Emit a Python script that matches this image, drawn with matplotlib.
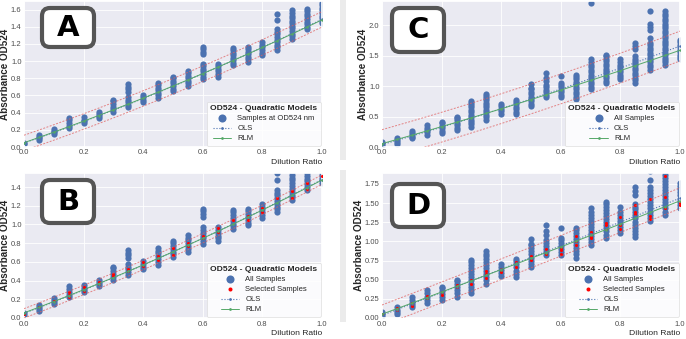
import matplotlib
matplotlib.use('Agg')
import matplotlib.pyplot as plt
from matplotlib.patches import FancyBboxPatch, Rectangle
import numpy as np
import seaborn as sns

sns.set_theme(style='darkgrid')
plt.rcParams['font.family'] = ['Liberation Sans', 'DejaVu Sans']

DILUTION = [0.0, 0.05, 0.10, 0.15, 0.20, 0.25, 0.30, 0.35, 0.40, 0.45, 0.50,
            0.55, 0.60, 0.65, 0.70, 0.75, 0.80, 0.85, 0.90, 0.95, 1.0]

# absorbance readings per dilution step, panels A/B
samples_ab = [
    [0.03, 0.05],
    [0.08, 0.10, 0.12, 0.14],
    [0.15, 0.17, 0.19, 0.21],
    [0.22, 0.25, 0.28, 0.31, 0.34],
    [0.28, 0.30, 0.32, 0.35],
    [0.34, 0.36, 0.38, 0.41],
    [0.41, 0.44, 0.47, 0.50, 0.53, 0.55],
    [0.46, 0.49, 0.52, 0.55, 0.58, 0.64, 0.67, 0.70, 0.73],
    [0.52, 0.55, 0.58, 0.61],
    [0.57, 0.60, 0.63, 0.66, 0.69, 0.72, 0.75],
    [0.65, 0.68, 0.71, 0.74, 0.77, 0.80, 0.82],
    [0.71, 0.74, 0.77, 0.80, 0.83, 0.86, 0.89],
    [0.79, 0.82, 0.85, 0.88, 0.91, 0.94, 0.97, 1.08, 1.11, 1.14, 1.17],
    [0.82, 0.85, 0.88, 0.91, 0.94, 0.97],
    [0.95, 0.98, 1.01, 1.04, 1.07, 1.10, 1.13, 1.15],
    [0.99, 1.02, 1.05, 1.08, 1.11, 1.14, 1.17],
    [1.07, 1.10, 1.13, 1.16, 1.19, 1.22],
    [1.13, 1.16, 1.19, 1.22, 1.25, 1.28, 1.31, 1.34, 1.37, 1.48, 1.55],
    [1.26, 1.29, 1.32, 1.35, 1.38, 1.41, 1.44, 1.47, 1.50, 1.53, 1.56, 1.59],
    [1.37, 1.40, 1.43, 1.46, 1.49, 1.52, 1.55, 1.58, 1.61],
    [1.44, 1.47, 1.50, 1.53, 1.56, 1.59, 1.62, 1.65, 1.68],
]

# absorbance readings per dilution step, panels C/D
samples_cd = [
    [0.02, 0.05, 0.08],
    [0.05, 0.08, 0.11, 0.14],
    [0.14, 0.17, 0.20, 0.23, 0.27],
    [0.20, 0.24, 0.28, 0.32, 0.36],
    [0.23, 0.27, 0.31, 0.35, 0.39, 0.41],
    [0.28, 0.32, 0.36, 0.40, 0.44, 0.48, 0.50],
    [0.33, 0.37, 0.41, 0.45, 0.49, 0.53, 0.57, 0.61, 0.65, 0.69, 0.73, 0.76],
    [0.45, 0.49, 0.53, 0.57, 0.61, 0.65, 0.69, 0.73, 0.77, 0.81, 0.84, 0.87],
    [0.55, 0.59, 0.63, 0.67, 0.71],
    [0.54, 0.58, 0.62, 0.66, 0.70, 0.74, 0.77],
    [0.67, 0.71, 0.75, 0.79, 0.83, 0.87, 0.91, 0.95, 0.97, 1.03],
    [0.82, 0.86, 0.90, 0.94, 0.98, 1.02, 1.08, 1.13, 1.21],
    [0.82, 0.86, 0.90, 0.94, 0.98, 1.02, 1.05, 1.17],
    [0.79, 0.83, 0.87, 0.91, 0.95, 0.99, 1.03, 1.07, 1.11, 1.15, 1.18],
    [0.95, 0.99, 1.03, 1.07, 1.11, 1.15, 1.19, 1.23, 1.27, 1.31, 1.35, 1.39,
     1.44, 2.37],
    [1.05, 1.09, 1.13, 1.17, 1.21, 1.25, 1.29, 1.33, 1.37, 1.41, 1.45, 1.49,
     1.52],
    [1.11, 1.15, 1.19, 1.23, 1.27, 1.31, 1.35, 1.39, 1.45],
    [1.06, 1.10, 1.14, 1.18, 1.22, 1.26, 1.30, 1.34, 1.38, 1.42, 1.45, 1.49,
     1.61, 1.66, 1.71],
    [1.27, 1.31, 1.35, 1.39, 1.43, 1.47, 1.51, 1.55, 1.59, 1.63, 1.67, 1.71,
     1.80, 1.92, 1.98, 2.03, 2.23],
    [1.35, 1.39, 1.43, 1.47, 1.51, 1.55, 1.59, 1.63, 1.67, 1.71, 1.75, 1.79,
     1.83, 1.87, 1.91, 1.95, 1.99, 2.03, 2.07, 2.11, 2.15, 2.19, 2.23],
    [1.44, 1.48, 1.52, 1.56, 1.60, 1.64, 1.68, 1.72, 1.76],
]

selected_b = [
    [0.04], [0.12], [0.18], [0.22, 0.25, 0.28], [0.29, 0.33], [0.36, 0.38],
    [0.45, 0.47], [0.50, 0.52], [0.56, 0.60], [0.62, 0.66], [0.67, 0.75],
    [0.77, 0.80], [0.86, 0.88], [0.92, 0.96], [1.05], [1.05, 1.09],
    [1.13, 1.18], [1.28], [1.28, 1.36], [1.38, 1.44], [1.52],
]

selected_d = [
    [0.05], [0.10, 0.13], [0.16, 0.19], [0.26, 0.29], [0.30, 0.34],
    [0.41, 0.43], [0.45, 0.50], [0.52, 0.57, 0.61], [0.60, 0.64], [0.67, 0.73],
    [0.76, 0.81], [0.84, 0.90], [0.84, 0.89, 0.92], [0.95, 1.00, 1.07],
    [1.04, 1.06, 1.12], [1.16, 1.21, 1.24], [1.16, 1.22, 1.32],
    [1.36, 1.38, 1.48], [1.29, 1.33, 1.55], [1.44, 1.58, 1.85], [1.47, 1.50],
]

# quadratic model coefficients [c0, c1, c2] and prediction band half-width
ols_a, rlm_a, band_a = [0.047, 1.20, 0.24], [0.05, 1.21, 0.22], 0.09
ols_b, rlm_b, band_b = [0.05, 1.20, 0.23], [0.055, 1.19, 0.23], 0.05
ols_c, rlm_c, band_c = [0.04, 1.38, 0.24], [0.055, 1.365, 0.17], 0.245
ols_d, rlm_d, band_d = [0.035, 1.49, 0.04], [0.05, 1.44, 0.04], 0.135

BLUE = '#4c72b0'
W, H = 686, 339
XT = [0.0, 0.2, 0.4, 0.6, 0.8, 1.0]


def quad(coef, x):
    return coef[0] + coef[1] * x + coef[2] * x ** 2


def draw_panel(rect, samples, selected, ols, rlm, band, ylim, yticks, yfmt,
               sample_label):
    ax = fig.add_axes(rect)
    xs = np.concatenate([[d] * len(col) for d, col in zip(DILUTION, samples)])
    ys = np.concatenate(samples)
    ax.scatter(xs, ys, s=20, color=BLUE, linewidths=0, label=sample_label,
               zorder=2)
    if selected is not None:
        sx = np.concatenate([[d] * len(col) for d, col in zip(DILUTION, selected)])
        sy = np.concatenate(selected)
        ax.scatter(sx, sy, s=5, color='red', linewidths=0,
                   label='Selected Samples', zorder=3)
    x = np.array(DILUTION)
    ax.plot(x, quad(ols, x), ':', color=BLUE, lw=0.8, marker='.', ms=1.5,
            label='OLS', zorder=4)
    ax.plot(x, quad(rlm, x), '-', color='#55a868', lw=0.7, marker='.', ms=1.5,
            label='RLM', zorder=4)
    for sign in (1, -1):
        ax.plot(x, quad(ols, x) + sign * band, color='#e06060', lw=0.7,
                ls=(0, (2, 1.5)), alpha=0.75, zorder=4)
    ax.set_xlim(0, 1.0)
    ax.set_ylim(*ylim)
    ax.set_xticks(XT)
    ax.set_yticks(yticks)
    ax.set_xticklabels([f'{t:.1f}' for t in XT])
    ax.set_yticklabels([yfmt.format(t) for t in yticks])
    ax.tick_params(labelsize=5.5, pad=1.8, length=0, labelcolor='0.3')
    ax.grid(color='white', lw=0.6)
    ax.set_xlabel('Dilution Ratio', loc='right', fontsize=6.1, labelpad=1.8,
                  color='0.15')
    ax.set_ylabel('Absorbance OD524', fontsize=7.1, fontweight='bold',
                  labelpad=0.8)
    leg = ax.legend(loc='lower right', title='OD524 - Quadratic Models',
                    fontsize=5.5, title_fontproperties={'weight': 'bold',
                                                        'size': 6.1},
                    frameon=True, facecolor='white', framealpha=0.85,
                    edgecolor='0.85', borderaxespad=0.15, labelspacing=0.35,
                    handlelength=2.4, handletextpad=0.8, borderpad=0.45,
                    markerscale=1.3, fancybox=True)
    leg.get_frame().set_linewidth(0.5)
    return ax


def badge(letter, x0, y0, x1, y1):
    box = FancyBboxPatch((x0, H - y1), x1 - x0, y1 - y0,
                         boxstyle='round,pad=0,rounding_size=8',
                         transform=None, facecolor='white',
                         edgecolor='#555555', linewidth=3, zorder=10)
    fig.add_artist(box)
    fig.text((x0 + x1) / 2 / W, 1 - (y0 + y1) / 2 / H, letter,
             ha='center', va='center', fontsize=21, fontweight='heavy',
             family='DejaVu Sans', color='black', zorder=11)


fig = plt.figure(figsize=(W / 100, H / 100), dpi=100)
fig.patch.set_facecolor('white')

for y0, y1 in ((0, 160), (170, 322)):
    fig.add_artist(Rectangle((340, H - y1), 6, y1 - y0, transform=None,
                             facecolor='#ebebeb', edgecolor='none'))

left_l, left_r = 24 / W, 382 / W
width = 298 / W

draw_panel([left_l, 1 - 147 / H, width, 146 / H], samples_ab, None,
           ols_a, rlm_a, band_a, (0, 1.7),
           [0.0, 0.2, 0.4, 0.6, 0.8, 1.0, 1.2, 1.4, 1.6], '{:.1f}',
           'Samples at OD524 nm')
draw_panel([left_r, 1 - 147 / H, width, 146 / H], samples_cd, None,
           ols_c, rlm_c, band_c, (0, 2.4),
           [0.0, 0.5, 1.0, 1.5, 2.0], '{:.1f}', 'All Samples')
draw_panel([left_l, 1 - 318 / H, width, 145 / H], samples_ab, selected_b,
           ols_b, rlm_b, band_b, (0, 1.55),
           [0.0, 0.2, 0.4, 0.6, 0.8, 1.0, 1.2, 1.4], '{:.1f}', 'All Samples')
draw_panel([left_r, 1 - 318 / H, width, 145.5 / H], samples_cd, selected_d,
           ols_d, rlm_d, band_d, (0, 1.9),
           [0.0, 0.25, 0.5, 0.75, 1.0, 1.25, 1.5, 1.75], '{:.2f}',
           'All Samples')

badge('A', 42, 8, 94, 47)
badge('C', 392, 8, 444, 52)
badge('B', 42, 180, 94, 223)
badge('D', 392, 184, 444, 227)

fig.savefig('out.png', dpi=100)
